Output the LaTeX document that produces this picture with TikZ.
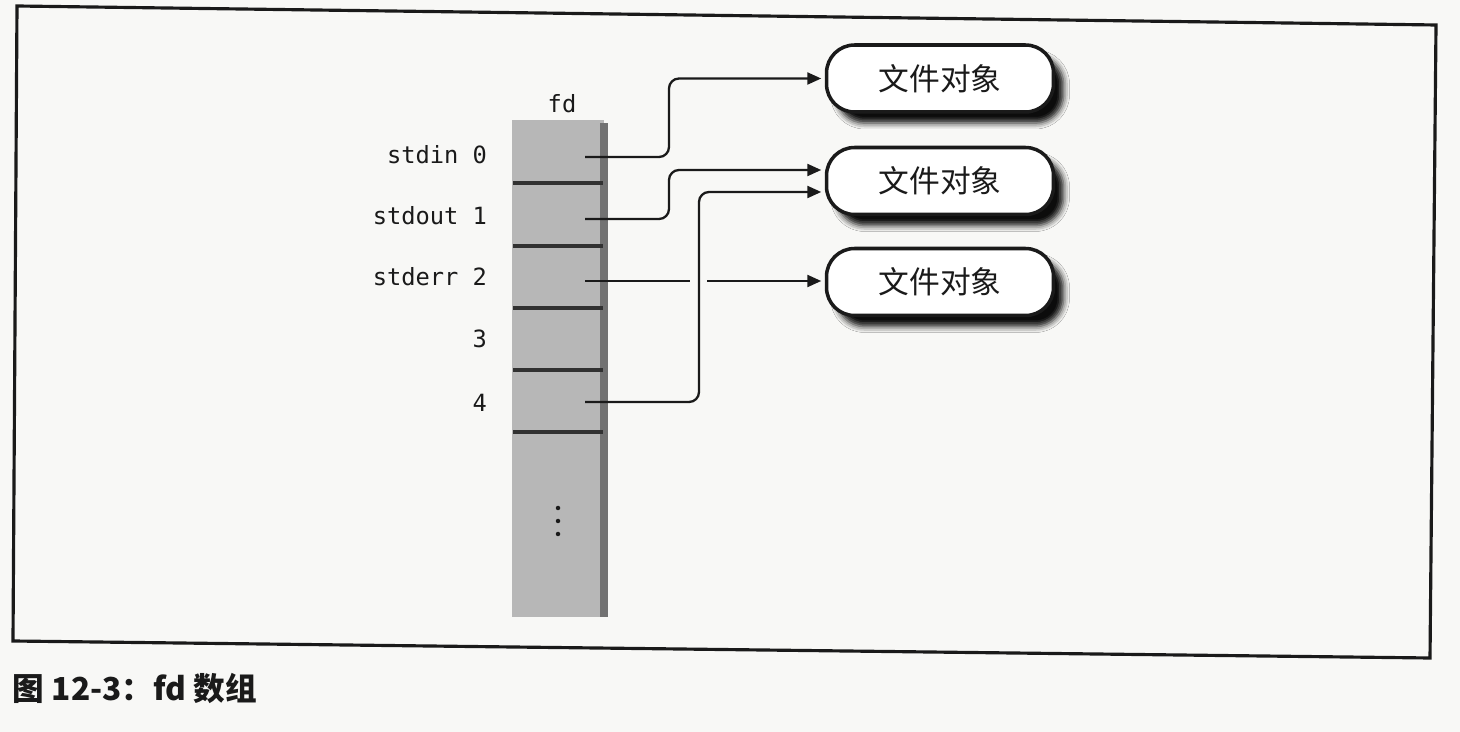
\documentclass[tikz,border=0pt]{standalone}
\usepackage{fontspec}
\setmonofont{DejaVu Sans Mono}
\newfontfamily\cjk{Noto Sans CJK SC}
\usetikzlibrary{arrows.meta,shadows.blur}
\definecolor{ink}{HTML}{1A1A1A}
\definecolor{paper}{HTML}{F8F8F6}
\definecolor{slot}{HTML}{B7B7B7}
\definecolor{slotedge}{HTML}{727272}

\begin{document}
\begin{tikzpicture}[
    x=0.02cm, y=-0.02cm,
    line width=1.3pt, color=ink,
    >={Triangle[length=2.8mm,width=2.4mm]},
    ptr/.style={->, rounded corners=0.2cm, shorten >=2pt},
    sep/.style={line width=2pt, draw=ink!90},
    lab/.style={font=\ttfamily\fontsize{13.5}{16}\selectfont, text=ink, anchor=east},
    obj/.style={draw=ink, line width=2pt, fill=white, rounded corners=0.56cm,
      minimum width=4.54cm, minimum height=1.34cm, inner sep=0pt,
      font=\cjk\fontsize{17.5}{20}\selectfont,
      blur shadow={shadow xshift=0.2cm, shadow yshift=-0.22cm,
        shadow blur radius=0.12cm, shadow opacity=95}}]
  % fixed canvas, one unit = one pixel of the page
  \path[use as bounding box] (0,0) rectangle (1460,732);
  \fill[paper] (0,0) rectangle (1460,732);

  % ================= frame (page slightly tilted) =================
  \draw[line width=1.8pt] (17,6) -- (1436,25) -- (1430,658) -- (13,641) -- cycle;

  % ================= fd array =================
  \node[font=\ttfamily\fontsize{13.5}{16}\selectfont] (fd) at (562,104) {fd};
  \fill[slot] (512,120) rectangle (604,617);
  \fill[slotedge] (600,123) rectangle (608,617);
  \foreach \y in {183,246,308,370,432}
    \draw[sep] (513,\y) -- (603,\y);
  \foreach \y in {508,521,534}
    \fill (558,\y) circle (0.045cm);

  % slot labels
  \node[lab] (l0) at (494,155) {stdin 0};
  \node[lab] (l1) at (494,216) {stdout 1};
  \node[lab] (l2) at (494,277) {stderr 2};
  \node[lab] (l3) at (494,339) {3};
  \node[lab] (l4) at (494,403) {4};

  % pointer starts inside the slots
  \coordinate (p0) at (585,157);
  \coordinate (p1) at (585,219);
  \coordinate (p2) at (585,281);
  \coordinate (p4) at (585,402);

  % ================= file objects =================
  \node[obj] (obj1) at (940,78.5) {文件对象};
  \node[obj] (obj2) at (940,181) {文件对象};
  \node[obj] (obj3) at (940,282) {文件对象};

  % ================= pointers =================
  \draw[ptr] (p0) -- ++(84,0) |- (obj1.west);
  \draw[ptr] (p1) -- ++(84,0) |- ([yshift=0.22cm]obj2.west);
  \draw[ptr] (p4) -- ++(114,0) |- ([yshift=-0.22cm]obj2.west);
  % gap where the line of slot 4 crosses
  \draw[ptr] (p2) -- ++(105,0) ++(17,0) -- (p2 -| obj3.west);

  % ================= caption =================
  \node[anchor=west, font=\cjk\bfseries\fontsize{18}{22}\selectfont] (cap) at (6,688) {图 12-3：fd 数组};
\end{tikzpicture}
\end{document}
